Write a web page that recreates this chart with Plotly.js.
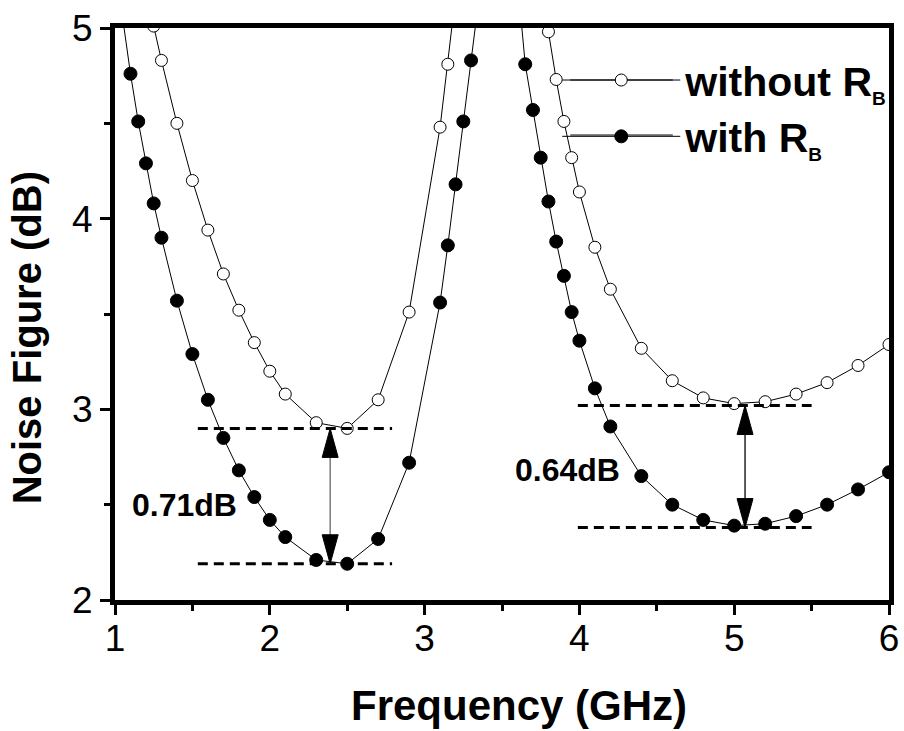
<!DOCTYPE html>
<html><head><meta charset="utf-8">
<script src="https://cdn.plot.ly/plotly-3.0.1.min.js"></script>
<style>html,body{margin:0;padding:0;background:#fff}</style>
</head><body><div id="chart" style="width:904px;height:731px"></div>
<script>
// ---- data ----
const freqWithout = [1.25,1.3,1.4,1.5,1.6,1.7,1.8,1.9,2.0,2.1,2.3,2.5,2.7,2.9,3.1,3.15,3.2,3.75,3.8,3.85,3.9,3.95,4.0,4.1,4.2,4.4,4.6,4.8,5.0,5.2,5.4,5.6,5.8,6.0];
const nfWithout   = [5.01,4.83,4.50,4.20,3.94,3.71,3.52,3.35,3.20,3.08,2.93,2.90,3.05,3.51,4.48,4.81,5.17,5.23,4.98,4.73,4.51,4.32,4.14,3.85,3.63,3.32,3.15,3.06,3.03,3.04,3.08,3.14,3.23,3.34];
const freqWith = [1.05,1.1,1.15,1.2,1.25,1.3,1.4,1.5,1.6,1.7,1.8,1.9,2.0,2.1,2.3,2.5,2.7,2.9,3.1,3.15,3.2,3.25,3.3,3.35,3.6,3.65,3.7,3.75,3.8,3.85,3.9,3.95,4.0,4.1,4.2,4.4,4.6,4.8,5.0,5.2,5.4,5.6,5.8,6.0];
const nfWith   = [5.05,4.76,4.51,4.29,4.08,3.90,3.57,3.29,3.05,2.85,2.68,2.54,2.42,2.33,2.21,2.19,2.32,2.72,3.56,3.86,4.18,4.51,4.83,5.15,5.25,4.81,4.57,4.32,4.09,3.88,3.70,3.51,3.36,3.11,2.91,2.65,2.50,2.42,2.39,2.40,2.44,2.50,2.58,2.67];
const seriesNames = ['without R<sub><span style="font-size:19px">B</span></sub>', 'with R<sub><span style="font-size:19px">B</span></sub>'];
const xTickVals = [1,2,3,4,5,6];
const yTickVals = [2,3,4,5];
const xTitle = 'Frequency (GHz)';
const yTitle = 'Noise Figure (dB)';
// NF improvement markers (upper level, lower level, labels)
const gapLabels = ['0.71dB','0.64dB'];
const gapUpper  = [2.90, 3.02];
const gapLower  = [2.19, 2.38];
// ---- annotation placement ----
const gapArrowX    = [2.39, 5.07];
const gapLineStart = [1.535, 3.99];
const gapLineEnd   = [2.79, 5.50];
const gapLabelX    = [1.45, 3.92];
const gapLabelY    = [2.50, 2.68];

const FONT = 'Liberation Sans, Arial, sans-serif';

const traces = [
  {x: freqWithout, y: nfWithout, name: seriesNames[0], type: 'scatter', mode: 'lines+markers',
   line: {color: '#000', width: 1},
   marker: {symbol: 'circle', size: 12, color: '#fff', line: {color: '#000', width: 1}}},
  {x: freqWith, y: nfWith, name: seriesNames[1], type: 'scatter', mode: 'lines+markers',
   line: {color: '#000', width: 1},
   marker: {symbol: 'circle', size: 13, color: '#000', line: {color: '#000', width: 1}}}
];

const shapes = [];
const annotations = [];
for (let i = 0; i < gapLabels.length; i++) {
  const dash = {color: '#000', width: 3, dash: '10px,6px'};
  shapes.push({type: 'line', xref: 'x', yref: 'y', x0: gapLineStart[i], x1: gapLineEnd[i], y0: gapUpper[i], y1: gapUpper[i], line: dash});
  shapes.push({type: 'line', xref: 'x', yref: 'y', x0: gapLineStart[i], x1: gapLineEnd[i], y0: gapLower[i], y1: gapLower[i], line: dash});
  shapes.push({type: 'line', xref: 'x', yref: 'y', x0: gapArrowX[i], x1: gapArrowX[i], y0: gapLower[i], y1: gapUpper[i],
               line: {color: i === 0 ? '#666' : '#000', width: 1.3}});
  shapes.push({type: 'path', xref: 'x', yref: 'y', xsizemode: 'pixel', ysizemode: 'pixel',
               xanchor: gapArrowX[i], yanchor: gapUpper[i], path: 'M0,0 L-8,-29 L8,-29 Z',
               fillcolor: '#000', line: {color: '#000', width: 1}});
  shapes.push({type: 'path', xref: 'x', yref: 'y', xsizemode: 'pixel', ysizemode: 'pixel',
               xanchor: gapArrowX[i], yanchor: gapLower[i], path: 'M0,0 L-8,29 L8,29 Z',
               fillcolor: '#000', line: {color: '#000', width: 1}});
  annotations.push({xref: 'x', yref: 'y', x: gapLabelX[i], y: gapLabelY[i], text: gapLabels[i], showarrow: false,
                    xanchor: 'center', yanchor: 'middle', font: {family: FONT, size: 32, color: '#000', weight: 700}});
}
// legend sample lines (longer than Plotly's built-in ones)
shapes.push({type: 'line', xref: 'paper', yref: 'paper', x0: 0.5882, x1: 0.7207, y0: 0.9091, y1: 0.9091, line: {color: '#000', width: 1}});
shapes.push({type: 'line', xref: 'paper', yref: 'paper', x0: 0.5882, x1: 0.7207, y0: 0.8129, y1: 0.8129, line: {color: '#000', width: 1}});

// axis titles placed like the reference (slightly off-centre)
annotations.push({xref: 'paper', yref: 'paper', x: 0.5219, y: -0.1836, text: xTitle, showarrow: false,
                  xanchor: 'center', yanchor: 'middle', font: {family: FONT, size: 42, color: '#000', weight: 700}});
annotations.push({xref: 'paper', yref: 'paper', x: -0.1133, y: 0.458, text: yTitle, showarrow: false, textangle: -90,
                  xanchor: 'center', yanchor: 'middle', font: {family: FONT, size: 40, color: '#000', weight: 700}});

const axisCommon = {
  showline: true, linewidth: 5, linecolor: '#000', mirror: true,
  showgrid: false, zeroline: false,
  ticks: 'outside', ticklen: 10, tickwidth: 3, tickcolor: '#000',
  tickfont: {family: FONT, size: 37, color: '#000'},
  minor: {dtick: 0.5, ticks: 'outside', ticklen: 6, tickwidth: 3, tickcolor: '#000', showgrid: false}
};

const layout = {
  width: 904, height: 731,
  margin: {l: 115, r: 12, t: 28, b: 131},
  paper_bgcolor: '#fff', plot_bgcolor: '#fff',
  showlegend: true,
  legend: {x: 0.5714, y: 0.967, xanchor: 'left', yanchor: 'top', bgcolor: 'rgba(0,0,0,0)', itemwidth: 118,
           font: {family: FONT, size: 41, color: '#000', weight: 700}, tracegroupgap: 0},
  xaxis: Object.assign({}, axisCommon, {
    range: [1, 6], tickvals: xTickVals, ticktext: xTickVals.map(String), ticklabelstandoff: -8
  }),
  yaxis: Object.assign({}, axisCommon, {
    range: [2, 5], tickvals: yTickVals, ticktext: yTickVals.map(String)
  }),
  shapes: shapes,
  annotations: annotations
};

Plotly.newPlot('chart', traces, layout, {displayModeBar: false, staticPlot: true});
</script>
</body></html>
